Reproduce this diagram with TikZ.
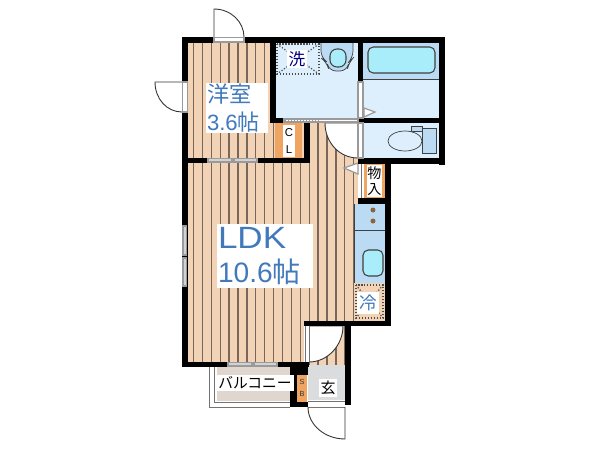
\documentclass[tikz,border=0pt]{standalone}
\usepackage{xcolor}
\usepackage{fontspec}
\setmainfont{Liberation Sans}
\newfontfamily\jp{Noto Sans CJK JP}
\definecolor{floorc}{HTML}{F2D3B5}
\definecolor{stripec}{HTML}{7A675C}
\definecolor{wetc}{HTML}{DDEFFC}
\definecolor{wetdark}{HTML}{BBDAF4}
\definecolor{tubc}{HTML}{A9EDFA}
\definecolor{orangec}{HTML}{EFA561}
\definecolor{labelc}{HTML}{4179BC}
\definecolor{balc}{HTML}{E1D6CE}
\definecolor{genkan}{HTML}{DBDCDE}
\definecolor{sashc}{HTML}{9A9A9A}
\begin{document}
\begin{tikzpicture}[x=0.02cm,y=-0.02cm,
		wall/.style={fill=black},
		wet/.style={fill=wetc},
		fit line/.style={draw=black!75,line width=0.4pt},
		sash/.style={fill=white,draw=sashc,line width=0.7pt},
		door/.style={draw=black!80,line width=0.5pt},
		thin wall/.style={draw=black!55,line width=0.5pt},
		dots/.style={draw=black!70,line width=0.7pt,densely dotted},
		label box/.style={fill=white,inner sep=0pt,align=left,text=labelc},
		small box/.style={fill=white,inner sep=0pt,align=center,text=black}]
	\useasboundingbox (0,0) rectangle (600,450);

	% lantai
	\begin{scope}
		\clip (188,43) rectangle (304,158) (188,158) rectangle (358,321) (188,321) rectangle (305,362) (309,326) rectangle (345,365) (304,123) rectangle (358,204);
		\fill [floorc] (180,30) rectangle (360,370);
		\foreach \x in {193.5,202.4,...,358} {
			\draw [stripec,line width=0.75pt] (\x,30) -- (\x,370);
		}
	\end{scope}

	% ruang basah
	\fill [wet] (276,43) rectangle (358,118);
	\fill [wet] (363,43) rectangle (440,118);
	\fill [wet] (363,123) rectangle (440,158);
	\fill [wetdark] (363,43) rectangle (440,79);
	\draw [fit line] (363,79) -- (440,79);
	\draw [fit line,line width=0.6pt,fill=tubc,rounded corners=3pt] (368,47) rectangle (435,73);

	% toilet atas
	\draw [fit line,fill=wetdark,rounded corners=4pt] (321,43) -- (321,58) -- (327,62) -- (329,71) -- (347,71) -- (349,62) -- (353,58) -- (353,43);
	\draw [fit line,line width=0.6pt,fill=tubc,rounded corners=4pt] (330,49) rectangle (346,67);

	% toilet bawah
	\draw [fit line,fill=wetdark] (411,126) rectangle (422,131);
	\draw [fit line,fill=wetdark] (422,128) rectangle (436,153);
	\draw [fit line,fill=wetc] (405,141) ellipse (17 and 10);

	% dapur
	\fill [wetdark] (354,204) rectangle (385,283);
	\draw [fit line] (354,230) -- (385,230);
	\draw [fit line] (354,204) -- (354,283);
	\fill [orangec!60!black] (373,210) circle (2.5);
	\fill [orangec!60!black] (373,221) circle (2.5);
	\draw [fit line,line width=0.6pt,fill=tubc,rounded corners=3pt] (363,250) rectangle (383,276);
	\fill [floorc] (354,283) rectangle (385,321);
	\draw [dots] (356,285) rectangle (383,318);
	\draw [dots] (356,285) -- (383,318);
	\draw [dots] (383,285) -- (356,318);

	% lemari
	\fill [orangec] (275,123) rectangle (302,158);
	\fill [orangec] (364,164) rectangle (385,198);
	\fill [white] (358,164) rectangle (364,198);
	\draw [thin wall] (361,164) -- (361,198);

	% balkon dan genkan
	\fill [balc] (217,367) rectangle (290,401);
	\fill [genkan] (308,365) rectangle (345,400);
	\draw [thin wall] (209,367) -- (209,407) -- (290,407);
	\draw [thin wall] (214,367) -- (214,402) -- (290,402);
	\draw [thin wall] (308,401) -- (345,401) (308,407) -- (345,407);

	% pintu dalam
	\draw [door,fill=white] (325,123) .. controls (325,142) and (339,158) .. (358,158) -- (358,123) -- cycle;
	\draw [door,fill=white] (343,326) .. controls (343,345) and (328,362) .. (309,362) -- (309,326) -- cycle;
	\draw [sash,fill=white] (344,168) -- (358,163) -- (358,174) -- cycle;
	\draw [sash,fill=white] (375,112) -- (364,108) -- (364,117) -- cycle;

	% dinding
	\fill [wall] (182,37) rectangle (445,43);
	\fill [wall] (182,37) rectangle (188,367);
	\fill [wall] (182,158) rectangle (310,163);
	\fill [wall] (270,37) rectangle (276,123);
	\fill [wall] (304,118) rectangle (310,163);
	\fill [wall] (270,118) rectangle (445,123);
	\fill [wall] (358,37) rectangle (363,82);
	\fill [wall] (439,37) rectangle (445,165);
	\fill [wall] (358,158) rectangle (445,164);
	\fill [wall] (385,158) rectangle (391,326);
	\fill [wall] (358,198) rectangle (391,204);
	\fill [wall] (304,321) rectangle (391,326);
	\fill [wall] (345,321) rectangle (351,405);
	\fill [wall] (182,362) rectangle (309,367);
	\fill [wall] (290,362) rectangle (297,407);
	\fill [wall] (290,367) rectangle (308,375);
	\fill [wall] (290,402) rectangle (308,407);
	\fill [orangec] (297,375) rectangle (307,402);
	\fill [white] (304.5,326) rectangle (309,362);
	\draw [thin wall] (305,326) -- (305,362);
	\draw [thin wall] (309,326) -- (309,362);

	% jendela dan bukaan
	\draw [sash,fill=white] (214,37.5) rectangle (244,42);
	\draw [sash,fill=white] (182.5,82) rectangle (187.5,112);
	\draw [sash,fill=white] (358,82) rectangle (363,118);
	\draw [sash,fill=white] (358,123) rectangle (363,158);
	\draw [sash,fill=white] (284,119) rectangle (358,122);
	\draw [dots,sashc] (285,120.5) -- (320,120.5);
	\draw [sash,fill=sashc!45] (208,158.5) rectangle (232,162);
	\draw [sash,fill=sashc!45] (234,158.5) rectangle (257,162);
	\draw [sash,fill=sashc!45] (228,362.5) rectangle (252,366);
	\draw [sash,fill=sashc!45] (254,362.5) rectangle (277,366);
	\draw [sash,fill=sashc!45] (183,226) rectangle (186.5,255);
	\draw [sash,fill=sashc!45] (183,258) rectangle (186.5,286);

	% pintu luar
	\draw [door] (214,37) -- (214,9) .. controls (231,9) and (244,22) .. (244,37);
	\draw [door] (182,82) -- (155,82) .. controls (155,99) and (167,112) .. (182,112);
	\draw [door] (308,407) .. controls (308,425) and (325,439) .. (345,439) -- (345,407);

	% area cuci
	\draw [dots] (277,44) rectangle (319,74);
	\draw [dots] (277,44) -- (319,74);
	\draw [dots] (319,44) -- (277,74);

	% label
	\node (yoshitsu) [label box,text width=1.2cm,minimum height=1.0cm,inner xsep=0.02cm,font=\fontsize{12.6}{15.5}\selectfont] at (237,108) {{\jp 洋室}\\3.6{\jp 帖}};
	\node (ldk) [label box,text width=1.88cm,minimum height=1.28cm,inner xsep=0.02cm,font=\fontsize{16}{19.5}\selectfont] at (265,256) {\scalebox{1.14}[1]{\fontsize{17.5}{19.5}\selectfont LDK}\\10.6{\jp 帖}};
	\node (sentaku) [fill=white,inner sep=1pt,text=blue!50!black,font=\jp\fontsize{9.5}{11}\selectfont] at (297,59) {洗};
	\node (rei) [fill=white,text=labelc,inner sep=1.5pt,font=\jp\fontsize{10}{12}\selectfont] at (368,303) {冷};
	\node (cl) [small box,minimum width=0.26cm,minimum height=0.64cm,font=\fontsize{6.5}{9.5}\selectfont] at (289,141) {C\\L};
	\node (mono) [small box,minimum width=0.3cm,minimum height=0.66cm,font=\jp\fontsize{8}{9.5}\selectfont] at (374.5,181) {物\\入};
	\node (balkon) [small box,inner sep=1pt,font=\jp\fontsize{8.4}{10}\selectfont] at (255,383) {バルコニー};
	\node (sb) [inner sep=0pt,align=center,text=black!80,font=\fontsize{4.2}{6.5}\selectfont] at (302,388) {S\\B};
	\node (genkan) [small box,inner sep=1pt,font=\jp\fontsize{8.5}{10}\selectfont] at (328,388) {玄};
\end{tikzpicture}
\end{document}
